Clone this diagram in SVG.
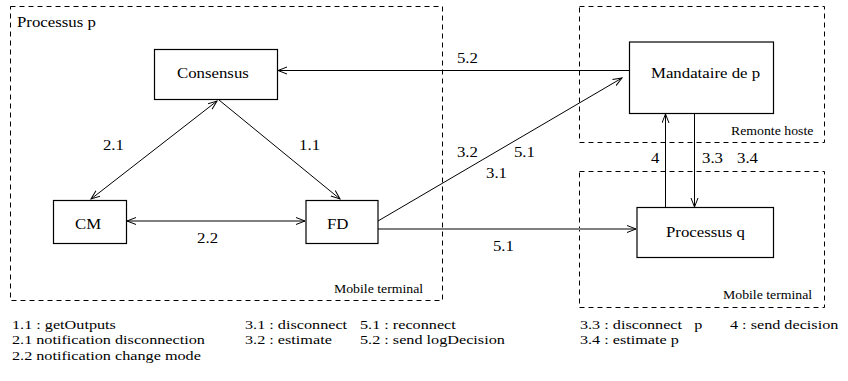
<svg xmlns="http://www.w3.org/2000/svg" width="848" height="381" viewBox="0 0 848 381">
  <style>
    .zone { fill: none; stroke: #000; stroke-width: 1; stroke-dasharray: 5 4; }
    .box { fill: #fff; stroke: #000; stroke-width: 1.2; }
    .edge { fill: none; stroke: #000; stroke-width: 1; }
    .edge-grey { fill: none; stroke: #808080; stroke-width: 2; }
    text { font-family: "Liberation Serif", "Times New Roman", serif; fill: #000; }
    .node { font-size: 14px; }
    .lbl { font-size: 14px; }
    .zlbl { font-size: 11.5px; }
    .leg { font-size: 13.5px; }
  </style>
  <defs>
    <marker id="head" markerUnits="userSpaceOnUse" markerWidth="12" markerHeight="10" refX="9" refY="4" orient="auto-start-reverse" viewBox="0 0 12 10">
      <path d="M0,0.5 L9,4 L0,7.5" fill="none" stroke="#000" stroke-width="1"/>
    </marker>
  </defs>

  <!-- zones -->
  <g id="zone-mobile-p">
    <rect class="zone" x="10.5" y="6.5" width="432" height="294"/>
    <g transform="scale(1.2 1)"><text class="zlbl" x="278.3" y="293">Mobile terminal</text></g>
  </g>
  <g id="zone-remote">
    <rect class="zone" x="579.5" y="6.5" width="245" height="136"/>
    <g transform="scale(1.2 1)"><text class="zlbl" x="609.2" y="135">Remonte hoste</text></g>
  </g>
  <g id="zone-mobile-q">
    <rect class="zone" x="579.5" y="171.5" width="245" height="136"/>
    <g transform="scale(1.2 1)"><text class="zlbl" x="602.5" y="299">Mobile terminal</text></g>
  </g>

  <!-- connectors -->
  <g id="connectors">
    <line class="edge" x1="217" y1="101" x2="91" y2="199" marker-start="url(#head)" marker-end="url(#head)"/>
    <line class="edge" x1="219" y1="100" x2="340" y2="199" marker-end="url(#head)"/>
    <line class="edge" x1="127" y1="221" x2="305" y2="221" marker-start="url(#head)" marker-end="url(#head)"/>
    <line class="edge" x1="629" y1="70.5" x2="278" y2="70.5" marker-end="url(#head)"/>
    <line class="edge" x1="378" y1="221" x2="622" y2="78" marker-end="url(#head)"/>
    <line class="edge-grey" x1="378" y1="229" x2="636" y2="229" marker-end="url(#head)"/>
    <line class="edge" x1="665.5" y1="207" x2="665.5" y2="114" marker-end="url(#head)"/>
    <line class="edge" x1="694.5" y1="114" x2="694.5" y2="207" marker-end="url(#head)"/>
    <g transform="scale(1.2 1)">
      <text class="lbl" x="85.8" y="150">2.1</text>
      <text class="lbl" x="249.2" y="150">1.1</text>
      <text class="lbl" x="164.2" y="243">2.2</text>
      <text class="lbl" x="380.8" y="63">5.2</text>
      <text class="lbl" x="380.8" y="157">3.2</text>
      <text class="lbl" x="428.3" y="157">5.1</text>
      <text class="lbl" x="405" y="178">3.1</text>
      <text class="lbl" x="410.8" y="251">5.1</text>
      <text class="lbl" x="542.5" y="163">4</text>
      <text class="lbl" x="585" y="163">3.3</text>
      <text class="lbl" x="614.2" y="163">3.4</text>
    </g>
  </g>

  <!-- nodes -->
  <g id="processus-p-label" transform="scale(1.2 1)">
    <text class="node" x="14.2" y="27">Processus p</text>
  </g>
  <g id="consensus">
    <rect class="box" x="154.5" y="49.5" width="123" height="50"/>
    <g transform="scale(1.2 1)"><text class="node" x="147.5" y="78">Consensus</text></g>
  </g>
  <g id="cm">
    <rect class="box" x="53.5" y="200.5" width="73" height="43"/>
    <g transform="scale(1.2 1)"><text class="node" x="62.5" y="229">CM</text></g>
  </g>
  <g id="fd">
    <rect class="box" x="306" y="200.5" width="72" height="43"/>
    <g transform="scale(1.2 1)"><text class="node" x="272.5" y="229">FD</text></g>
  </g>
  <g id="mandataire">
    <rect class="box" x="629.5" y="42" width="144" height="71.5"/>
    <g transform="scale(1.2 1)"><text class="node" x="542.5" y="78">Mandataire de p</text></g>
  </g>
  <g id="processus-q">
    <rect class="box" x="637" y="207.5" width="136.5" height="50"/>
    <g transform="scale(1.2 1)"><text class="node" x="555" y="237">Processus q</text></g>
  </g>

  <!-- legend -->
  <g id="legend" transform="scale(1.2 1)">
    <text class="leg" x="10" y="329">1.1 : getOutputs</text>
    <text class="leg" x="10" y="344">2.1 notification disconnection</text>
    <text class="leg" x="10" y="360">2.2 notification change mode</text>
    <text class="leg" x="204.2" y="329">3.1 : disconnect</text>
    <text class="leg" x="204.2" y="344">3.2 : estimate</text>
    <text class="leg" x="300" y="329">5.1 : reconnect</text>
    <text class="leg" x="300" y="344">5.2 : send logDecision</text>
    <text class="leg" x="483.3" y="329" xml:space="preserve">3.3 : disconnect   p</text>
    <text class="leg" x="483.3" y="344">3.4 : estimate p</text>
    <text class="leg" x="608.3" y="329">4 : send decision</text>
  </g>
</svg>
